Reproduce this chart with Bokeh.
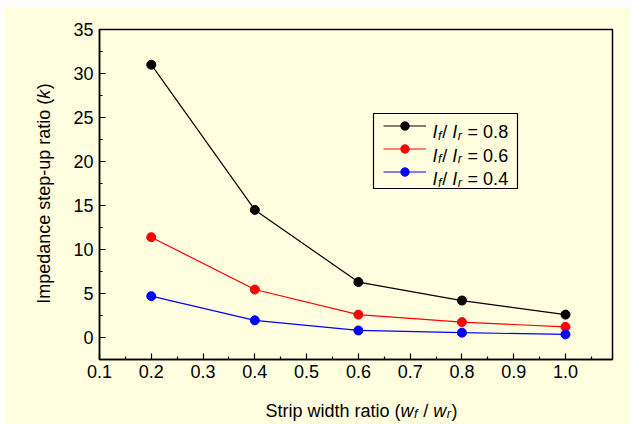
import math
from bokeh.plotting import figure
from bokeh.models import (Label, Legend, LegendItem, FixedTicker, PrintfTickFormatter,
                          BoxAnnotation, Range1d)
from bokeh.embed import file_html
from bokeh.resources import INLINE

# ---------------- data ----------------
width_ratio = [0.2, 0.4, 0.6, 0.8, 1.0]          # w_f / w_r
k_lf_08 = [31.0, 14.5, 6.3, 4.2, 2.6]            # l_f / l_r = 0.8
k_lf_06 = [11.4, 5.45, 2.6, 1.75, 1.2]           # l_f / l_r = 0.6
k_lf_04 = [4.7, 1.95, 0.8, 0.55, 0.35]           # l_f / l_r = 0.4
length_ratio_labels = ["0.8", "0.6", "0.4"]
series_colors = ["#000000", "#ff0000", "#0000ff"]

x_major_ticks = [0.1, 0.2, 0.3, 0.4, 0.5, 0.6, 0.7, 0.8, 0.9, 1.0]
x_minor_ticks = [0.15, 0.25, 0.35, 0.45, 0.55, 0.65, 0.75, 0.85, 0.95, 1.05]
y_major_ticks = [0, 5, 10, 15, 20, 25, 30, 35]
y_minor_ticks = [2.5, 7.5, 12.5, 17.5, 22.5, 27.5, 32.5]
x_axis_min, y_axis_min, y_axis_max = 0.1, -2.5, 35.0

BG = "#ffffe0"
FONT = "Liberation Sans"
FS = 18

# ---------------- pixel layout (page coordinates) ----------------
OFF_X, OFF_Y = 4, 7            # where the figure starts on the page
FIG_W, FIG_H = 626, 417
PX_X01, PX_X10 = 99, 565       # pixel of x = 0.1 and x = 1.0
PX_Y35, PX_Y0 = 29, 337        # pixel of y = 35 and y = 0
PX_BOX_RIGHT = 612

ux = (1.0 - 0.1) / (PX_X10 - PX_X01)
uy = 35.0 / (PX_Y0 - PX_Y35)
x_start = 0.1 - (PX_X01 - OFF_X) * ux
x_end = 0.1 + (OFF_X + FIG_W - PX_X01) * ux
y_end = 35.0 + (PX_Y35 - OFF_Y) * uy
y_start = 0.0 - (OFF_Y + FIG_H - PX_Y0) * uy
x_box_right = 0.1 + (PX_BOX_RIGHT - PX_X01) * ux


def sxp(px):  # page x -> frame screen x
    return px - OFF_X


def syp(py):  # page y -> frame screen y (upwards)
    return OFF_Y + FIG_H - py


p = figure(width=FIG_W, height=FIG_H, output_backend="svg", toolbar_location=None,
           x_range=Range1d(x_start, x_end), y_range=Range1d(y_start, y_end),
           min_border=0, background_fill_color=BG, border_fill_color=BG)
p.margin = (OFF_Y, 0, 0, OFF_X)
p.grid.visible = False
p.outline_line_alpha = 0

p.xaxis.fixed_location = y_axis_min
p.yaxis.fixed_location = x_axis_min
p.xaxis.bounds = (x_axis_min, x_box_right)
p.yaxis.bounds = (y_axis_min, y_axis_max)
p.xaxis.ticker = FixedTicker(ticks=x_major_ticks, minor_ticks=x_minor_ticks)
p.xaxis.formatter = PrintfTickFormatter(format="%.1f")
p.yaxis.ticker = FixedTicker(ticks=y_major_ticks, minor_ticks=y_minor_ticks)
for ax in (p.xaxis[0], p.yaxis[0]):
    ax.axis_line_color = "black"
    ax.axis_line_width = 1.5
    ax.major_tick_in = 6
    ax.major_tick_out = 0
    ax.minor_tick_in = 3
    ax.minor_tick_out = 0
    ax.major_tick_line_color = "black"
    ax.minor_tick_line_color = "black"
    ax.major_tick_line_width = 1.2
    ax.minor_tick_line_width = 1.2
    ax.major_label_text_font = FONT
    ax.major_label_text_font_size = f"{FS}px"
    ax.major_label_text_color = "black"
p.xaxis.major_label_standoff = 5
p.yaxis.major_label_standoff = 6

# plot box (top and right edges)
p.add_layout(BoxAnnotation(left=x_axis_min, right=x_box_right, bottom=y_axis_min, top=y_axis_max,
                           fill_alpha=0, line_color="black", line_width=1.5, line_alpha=1.0,
                           level="underlay"))

items = []
for ys, c in zip([k_lf_08, k_lf_06, k_lf_04], series_colors):
    lr = p.line(width_ratio, ys, line_color=c, line_width=1.2)
    sr = p.scatter(width_ratio, ys, size=9, fill_color=c, line_color=c)
    items.append(LegendItem(label=" ", renderers=[lr, sr]))

# legend frame
p.add_layout(BoxAnnotation(left=sxp(373), right=sxp(517), bottom=syp(188), top=syp(113),
                           left_units="screen", right_units="screen",
                           top_units="screen", bottom_units="screen",
                           fill_color=BG, fill_alpha=1.0, line_color="black",
                           line_width=1.2, line_alpha=1.0))
legend = Legend(items=items, location=(sxp(381), syp(184)), padding=2, spacing=2, margin=0,
                glyph_width=43, glyph_height=21, label_height=21, label_width=1,
                label_standoff=0, border_line_alpha=0, background_fill_alpha=0,
                label_text_font_size="8px")
p.add_layout(legend)

# ---------------- rich text helper ----------------
W = {' ': 569, '(': 682, ')': 682, '-': 682, '.': 569, '/': 569, '=': 1196,
     'I': 569, 'S': 1366, 'a': 1139, 'c': 1024, 'd': 1139, 'e': 1139, 'f': 569,
     'h': 1139, 'i': 455, 'k': 1024, 'm': 1706, 'n': 1139, 'o': 1139, 'p': 1139,
     'r': 682, 's': 1024, 't': 569, 'u': 1139, 'w': 1479}


def tw(s, size):
    return sum(W.get(ch, 1139) for ch in s) * size / 2048.0


def piece_size(sub, size):
    return size * 0.7 if sub else size


def rich_width(pieces, size):
    return sum(tw(t, piece_size(sub, size)) + (0.6 if it else 0) for t, it, sub in pieces)


def rich(pieces, sx, sy, size, angle=0.0):
    pos = 0.0
    ca, sa = math.cos(angle), math.sin(angle)
    for text, italic, sub in pieces:
        fs = piece_size(sub, size)
        drop = size * 0.22 if sub else 0.0
        core = text.strip(" ")
        lead = len(text) - len(text.lstrip(" "))
        trail = len(text) - len(text.rstrip(" "))
        pos += tw(" " * lead, fs)
        x = sx + pos * ca + drop * sa
        y = sy + pos * sa - drop * ca
        p.add_layout(Label(x=x, y=y, x_units="screen", y_units="screen", text=core,
                           angle=angle, text_font=FONT, text_font_size=f"{fs:.1f}px",
                           text_font_style="italic" if italic else "normal",
                           text_color="black", text_align="left",
                           text_baseline="alphabetic"))
        pos += tw(core, fs) + tw(" " * trail, fs) + (0.6 if italic else 0.0)


# legend labels
for i, lab in enumerate(length_ratio_labels):
    pcs = [("I", True, False), ("f", True, True), ("/ ", False, False),
           ("I", True, False), ("r", True, True), (" = " + lab, False, False)]
    rich(pcs, sxp(432), syp(131.5 + i * 23.5), FS)

# x axis title
xt = [("Strip width ratio (", False, False), ("w", True, False), ("f", True, True),
      (" / ", False, False), ("w", True, False), ("r", True, True), (")", False, False)]
rich(xt, sxp(361) - rich_width(xt, FS) / 2, syp(410), FS)

# y axis title
yt = [("Impedance step-up ratio (", False, False), ("k", True, False), (")", False, False)]
rich(yt, sxp(43), syp(193) - rich_width(yt, FS) / 2, FS, angle=math.pi / 2)

open("out.html", "w").write(file_html(p, INLINE))
